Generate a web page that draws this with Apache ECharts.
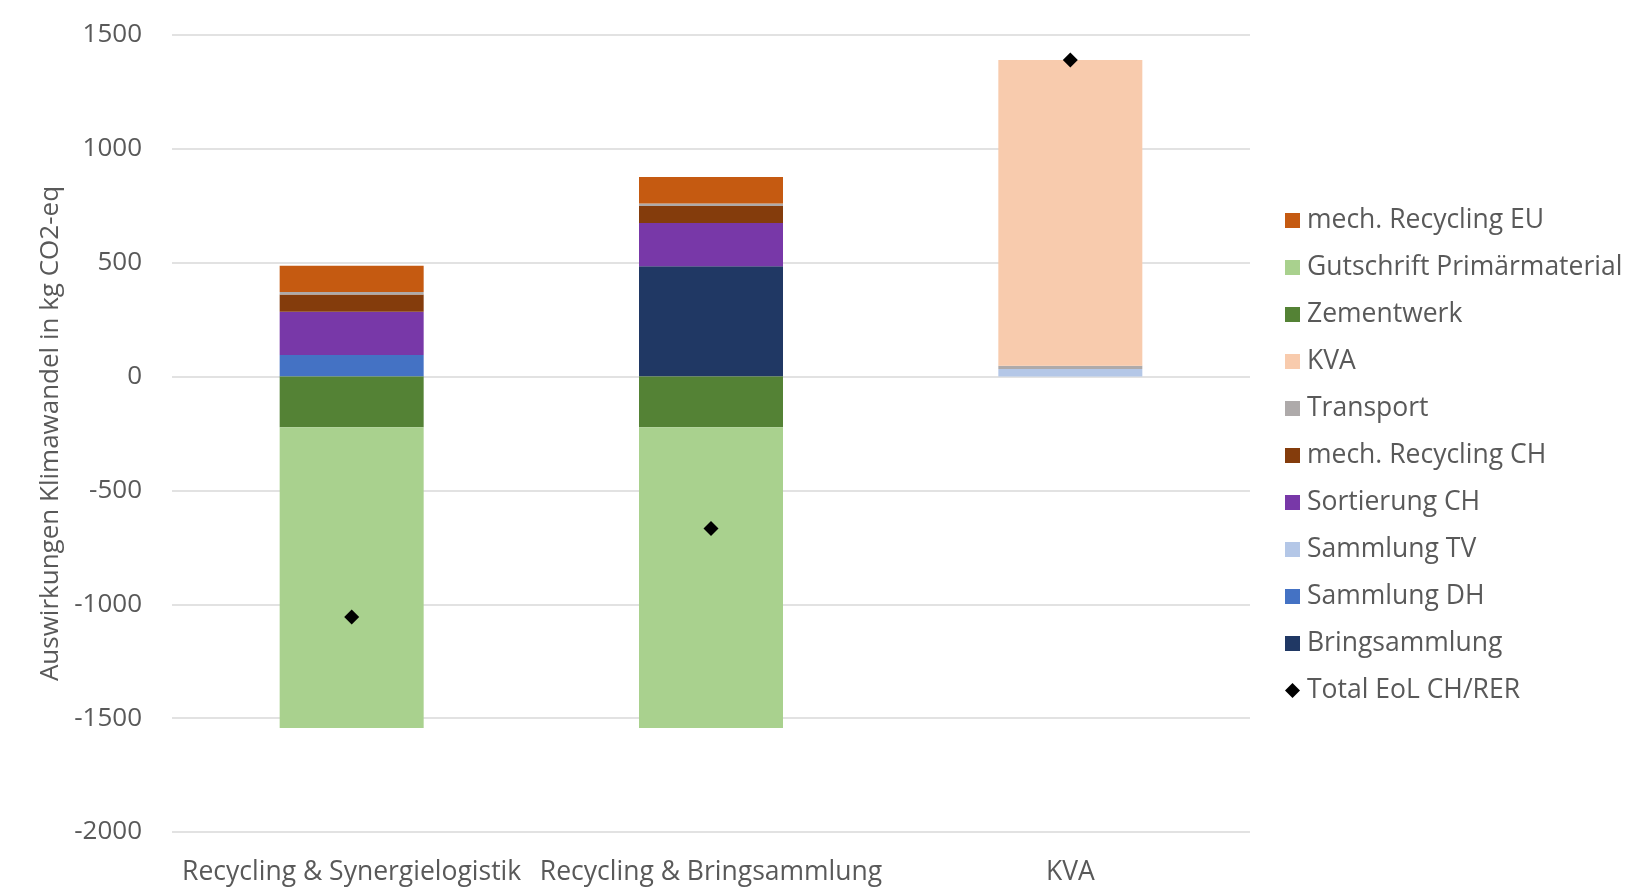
<!DOCTYPE html>
<html>
<head>
<meta charset="utf-8">
<script src="https://cdn.jsdelivr.net/npm/echarts@6/dist/echarts.min.js"></script>
<style>
  html, body { margin: 0; padding: 0; background: #fff; }
  #chart { width: 1626px; height: 892px; }
</style>
</head>
<body>
<div id="chart"></div>
<script>
const categories = ["Recycling & Synergielogistik", "Recycling & Bringsammlung", "KVA"];

// values in kg CO2-eq
const bringsammlung = [0, 484, 0];
const sammlungDH = [95, 0, 0];
const sammlungTV = [0, 0, 33];
const sortierungCH = [190, 190, 0];
const mechRecyclingCH = [75, 75, 0];
const transport = [11, 11, 14];
const kva = [0, 0, 1343];
const zementwerk = [-223, -223, 0];
const gutschrift = [-1320, -1320, 0];
const mechRecyclingEU = [116, 116, 0];
const totalEoL = [-1056, -667, 1390];

const yTicks = { min: -2000, max: 1500, interval: 500 };

const textColor = "#595959";
const font = "'Open Sans', sans-serif";

const stackSeries = [
  ["Bringsammlung", bringsammlung, "#203864"],
  ["Sammlung DH", sammlungDH, "#4472C4"],
  ["Sammlung TV", sammlungTV, "#B4C7E7"],
  ["Sortierung CH", sortierungCH, "#7838A8"],
  ["mech. Recycling CH", mechRecyclingCH, "#843C0C"],
  ["Transport", transport, "#AEAAAA"],
  ["KVA", kva, "#F8CBAD"],
  ["Zementwerk", zementwerk, "#548235"],
  ["Gutschrift Primärmaterial", gutschrift, "#A9D18E"],
  ["mech. Recycling EU", mechRecyclingEU, "#C55A11"],
];

const legendOrder = [
  "mech. Recycling EU", "Gutschrift Primärmaterial", "Zementwerk", "KVA", "Transport",
  "mech. Recycling CH", "Sortierung CH", "Sammlung TV", "Sammlung DH", "Bringsammlung",
  "Total EoL CH/RER",
];

const chart = echarts.init(document.getElementById("chart"), null, { renderer: "canvas" });

const series = stackSeries.map(([name, data, color]) => ({
  name,
  type: "bar",
  stack: "eol",
  barWidth: 144,
  itemStyle: { color },
  data,
}));

series.push({
  name: "Total EoL CH/RER",
  type: "scatter",
  symbol: "diamond",
  symbolSize: 15,
  itemStyle: { color: "#000", opacity: 1 },
  z: 5,
  data: totalEoL,
});

chart.setOption({
  animation: false,
  textStyle: { fontFamily: font },
  grid: { left: 172, right: 376, top: 35, bottom: 60 },
  legend: {
    orient: "vertical",
    left: 1280,
    top: 202,
    itemWidth: 15,
    itemHeight: 15,
    itemGap: 20,
    icon: "rect",
    data: legendOrder.map((name) =>
      name === "Total EoL CH/RER" ? { name, icon: "diamond" } : { name }
    ),
    textStyle: { color: textColor, fontSize: 26.5, fontFamily: font, padding: [0, 0, 0, 2] },
  },
  xAxis: {
    type: "category",
    data: categories,
    axisLine: { show: false },
    axisTick: { show: false },
    axisLabel: { color: textColor, fontSize: 26.5, margin: 27, interval: 0, fontFamily: font },
  },
  yAxis: {
    type: "value",
    min: yTicks.min,
    max: yTicks.max,
    interval: yTicks.interval,
    name: "Auswirkungen Klimawandel in kg CO2-eq",
    nameLocation: "middle",
    nameGap: 102,
    nameTextStyle: { color: textColor, fontSize: 26, fontFamily: font },
    axisLabel: { color: textColor, fontSize: 26, margin: 30, fontFamily: font, formatter: (v) => String(v) },
    splitLine: { lineStyle: { color: "#D9D9D9", width: 1.5 } },
  },
  series,
});
</script>
</body>
</html>
